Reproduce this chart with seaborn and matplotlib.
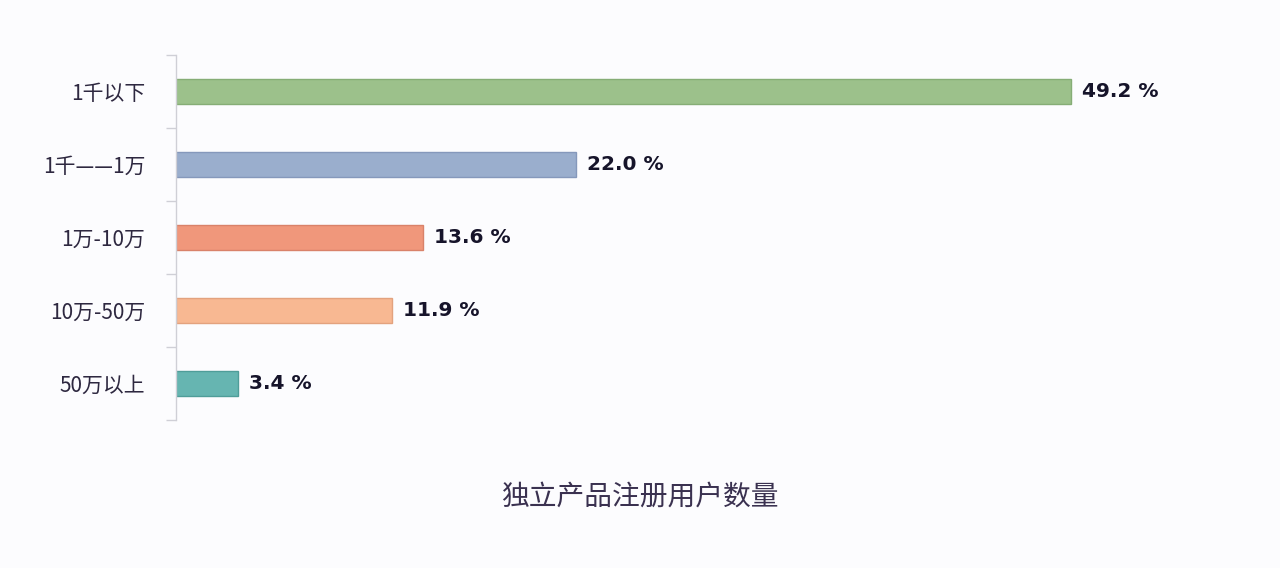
import matplotlib
matplotlib.use("Agg")
import matplotlib.pyplot as plt
import seaborn as sns
import pandas as pd


# =====================
# Data
# =====================

categories = ["1千以下", "1千——1万", "1万-10万", "10万-50万", "50万以上"]
shares = [49.2, 22.0, 13.6, 11.9, 3.4]
bar_colors = ["#9cc18b", "#9aaecd", "#f0977b", "#f8b892", "#66b5b1"]
edge_colors = ["#86ad76", "#8598bb", "#d9826a", "#e3a27e", "#4f9d99"]
title_text = "独立产品注册用户数量"

df = pd.DataFrame({"range": categories, "share": shares})


# =====================
# Style
# =====================

sns.set_theme(style="white")
plt.rcParams["font.family"] = ["Noto Sans CJK SC", "DejaVu Sans"]

fig = plt.figure(figsize=(12.8, 5.68), dpi=100, facecolor="#fcfcfe")
ax = fig.add_axes([176 / 1280, 1 - 420 / 568, (1240 - 176) / 1280, 365 / 568])
ax.set_facecolor("#fcfcfe")


# =====================
# Bars
# =====================

sns.barplot(
    data=df,
    x="share",
    y="range",
    hue="range",
    palette=bar_colors,
    saturation=1,
    legend=False,
    width=0.34,
    linewidth=1,
    ax=ax
)

for patch, ec in zip(ax.patches, edge_colors):
    patch.set_edgecolor(ec)

for i, v in enumerate(shares):
    ax.text(
        v + 0.6,
        i,
        f"{v:.1f} %",
        va="center",
        ha="left",
        fontsize=14.5,
        fontweight="bold",
        color="#16142a",
        family=["DejaVu Sans"]
    )


# =====================
# Axes
# =====================

ax.set_xlim(0, (1240 - 176) / 18.19)
ax.set_ylim(len(categories) - 0.5, -0.5)

for side in ["top", "right", "bottom"]:
    ax.spines[side].set_visible(False)
ax.spines["left"].set_color("#cfcfd6")
ax.spines["left"].set_linewidth(1)

ax.set_xticks([])
ax.set_yticks(range(len(categories)))
ax.set_yticklabels(categories, fontsize=15, color="#2e2840")
ax.set_yticks([i - 0.5 for i in range(len(categories) + 1)], minor=True)
ax.tick_params(axis="y", which="major", left=False, length=0, pad=22)
ax.tick_params(axis="y", which="minor", left=True, length=7, color="#cfcfd6", width=1)
ax.set_xlabel("")
ax.set_ylabel("")

fig.text(
    0.5,
    1 - 497 / 568,
    title_text,
    ha="center",
    va="center",
    fontsize=20,
    color="#3a3150"
)

fig.savefig("out.png", dpi=100, facecolor=fig.get_facecolor())
